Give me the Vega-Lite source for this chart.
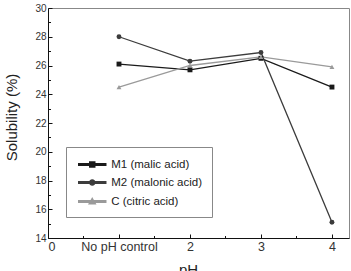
{
  "$schema": "https://vega.github.io/schema/vega-lite/v6.json",
  "width": 301,
  "height": 230,
  "autosize": "none",
  "padding": {"left": 48, "top": 8, "right": 2, "bottom": 33},
  "config": {
    "font": "Liberation Sans",
    "view": {"stroke": "#888", "strokeWidth": 1},
    "axis": {"grid": false, "domainColor": "#111", "domainWidth": 1, "tickColor": "#111", "labelColor": "#333", "labelFontSize": 10, "labelFont": "Liberation Sans", "titleFont": "Liberation Sans", "titleColor": "#222", "titleFontWeight": "normal"},
    "legend": {
      "orient": "none", "legendX": 18, "legendY": 139, "title": null,
      "strokeColor": "#888", "fillColor": "white", "padding": 10,
      "labelFontSize": 11.5, "labelColor": "#222", "labelOffset": 11.5, "symbolOffset": 8.75,
      "symbolSize": 182, "symbolOpacity": 1, "rowPadding": 5
    }
  },
  "data": {
    "values": [
      {"pH": 1, "s": 26.1, "series": "M1 (malic acid)"},
      {"pH": 2, "s": 25.7, "series": "M1 (malic acid)"},
      {"pH": 3, "s": 26.5, "series": "M1 (malic acid)"},
      {"pH": 4, "s": 24.5, "series": "M1 (malic acid)"},
      {"pH": 1, "s": 28.0, "series": "M2 (malonic acid)"},
      {"pH": 2, "s": 26.3, "series": "M2 (malonic acid)"},
      {"pH": 3, "s": 26.9, "series": "M2 (malonic acid)"},
      {"pH": 4, "s": 15.1, "series": "M2 (malonic acid)"},
      {"pH": 1, "s": 24.5, "series": "C (citric acid)"},
      {"pH": 2, "s": 26.0, "series": "C (citric acid)"},
      {"pH": 3, "s": 26.6, "series": "C (citric acid)"},
      {"pH": 4, "s": 25.9, "series": "C (citric acid)"}
    ]
  },
  "layer": [
    {
      "mark": {"type": "point", "filled": true, "opacity": 0},
      "encoding": {
        "x": {"field": "pH", "type": "quantitative", "axis": null},
        "y": {"field": "s", "type": "quantitative", "axis": null},
        "color": {"field": "series", "type": "nominal",
          "scale": {"domain": ["M1 (malic acid)", "M2 (malonic acid)", "C (citric acid)"], "range": ["#1a1a1a", "#3c3c3c", "#9a9a9a"]},
          "legend": {"orient": "none", "legendX": 18, "legendY": 139, "title": null, "symbolOpacity": 1, "symbolSize": 182, "labelExpr": "datum.label + '       '"}},
        "shape": {"field": "series", "type": "nominal",
          "scale": {"domain": ["M1 (malic acid)", "M2 (malonic acid)", "C (citric acid)"],
            "range": ["M-2,-0.1H2V0.1H-2ZM-0.37,-0.37H0.37V0.37H-0.37Z", "M-2,-0.1H2V0.1H-2ZM0.38,0A0.38,0.38 0 1,1 -0.38,0A0.38,0.38 0 1,1 0.38,0Z", "M-2,-0.1H2V0.1H-2ZM0,-0.44L0.44,0.32H-0.44Z"]},
          "legend": {"orient": "none", "legendX": 18, "legendY": 139, "title": null, "symbolOpacity": 1, "symbolSize": 182, "labelExpr": "datum.label + '       '"}}
      }
    },
    {
      "mark": {"type": "line", "strokeWidth": 1.3},
      "encoding": {
        "x": {"field": "pH", "type": "quantitative", "scale": {"domain": [0, 4.24], "nice": false, "zero": false},
          "axis": {"orient": "bottom", "values": [0, 1, 2, 3, 4], "labelExpr": "datum.value == 1 ? 'No pH control' : datum.label", "labelFontSize": 12.5, "tickSize": -4, "labelPadding": 6, "title": "pH", "titleFontSize": 15, "titlePadding": 10, "titleX": 140}},
        "y": {"field": "s", "type": "quantitative", "scale": {"domain": [14, 30], "nice": false, "zero": false},
          "axis": {"orient": "left", "values": [14, 16, 18, 20, 22, 24, 26, 28, 30], "tickSize": -4, "labelPadding": 6, "title": "Solubility (%)", "titleFontSize": 15, "titlePadding": 15, "titleY": 109}},
        "color": {"field": "series", "type": "nominal"}
      }
    },
    {
      "transform": [{"filter": "datum.series == 'M1 (malic acid)'"}],
      "mark": {"type": "point", "filled": true, "size": 24, "opacity": 1, "shape": "square"},
      "encoding": {
        "x": {"field": "pH", "type": "quantitative", "axis": null},
        "y": {"field": "s", "type": "quantitative", "axis": null},
        "color": {"field": "series", "type": "nominal"}
      }
    },
    {
      "transform": [{"filter": "datum.series == 'M2 (malonic acid)'"}],
      "mark": {"type": "point", "filled": true, "size": 24, "opacity": 1, "shape": "circle"},
      "encoding": {
        "x": {"field": "pH", "type": "quantitative", "axis": null},
        "y": {"field": "s", "type": "quantitative", "axis": null},
        "color": {"field": "series", "type": "nominal"}
      }
    },
    {
      "transform": [{"filter": "datum.series == 'C (citric acid)'"}],
      "mark": {"type": "point", "filled": true, "size": 24, "opacity": 1, "shape": "triangle-up"},
      "encoding": {
        "x": {"field": "pH", "type": "quantitative", "axis": null},
        "y": {"field": "s", "type": "quantitative", "axis": null},
        "color": {"field": "series", "type": "nominal"}
      }
    },
    {
      "mark": {"type": "point", "opacity": 0},
      "encoding": {
        "x": {"field": "pH", "type": "quantitative", "axis": {"orient": "bottom", "values": [0.5, 1.5, 2.5, 3.5], "labels": false, "domain": false, "tickSize": -2.5, "title": null}},
        "y": {"field": "s", "type": "quantitative", "axis": {"orient": "left", "values": [15, 17, 19, 21, 23, 25, 27, 29], "labels": false, "domain": false, "tickSize": -2.5, "title": null}}
      }
    }
  ],
  "resolve": {"axis": {"x": "independent", "y": "independent"}}
}
